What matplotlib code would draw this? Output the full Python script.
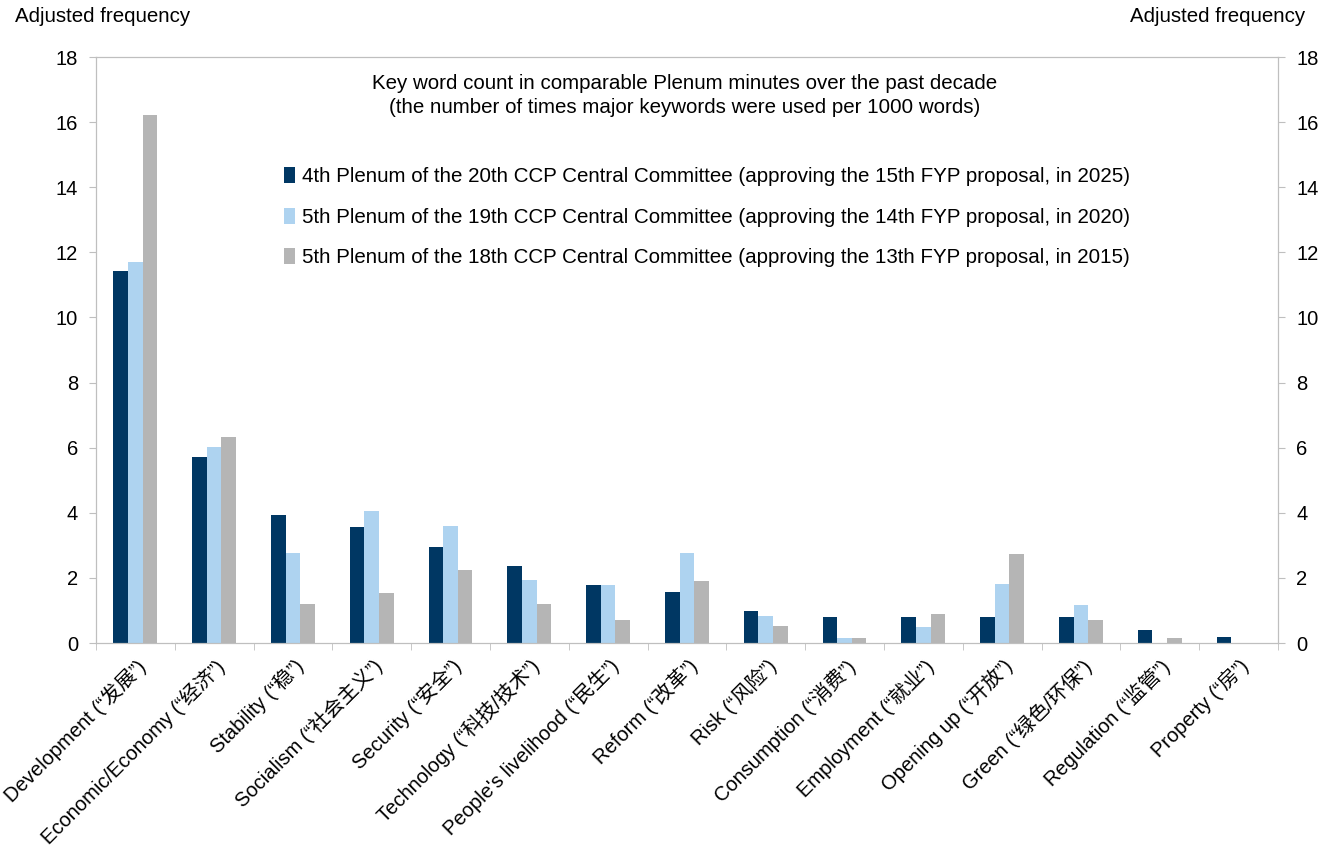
import numpy as np
import matplotlib.pyplot as plt

plt.rcParams['font.family'] = ['Liberation Sans', 'Noto Sans CJK SC', 'DejaVu Sans']

categories = ['Development (“发展”)', 'Economic/Economy (“经济”)', 'Stability (“稳”)',
              'Socialism (“社会主义”)', 'Security (“安全”)', 'Technology (“科技/技术”)',
              'People\'s livelihood (“民生”)', 'Reform (“改革”)', 'Risk (“风险”)',
              'Consumption (“消费”)', 'Employment (“就业”)', 'Opening up (“开放”)',
              'Green (“绿色/环保”)', 'Regulation (“监管”)', 'Property (“房”)']

plenum_2025 = [11.43, 5.72, 3.93, 3.56, 2.95, 2.36, 1.78, 1.58, 0.99, 0.8, 0.8, 0.8, 0.8, 0.41, 0.2]
plenum_2020 = [11.7, 6.02, 2.76, 4.05, 3.6, 1.95, 1.78, 2.78, 0.83, 0.16, 0.5, 1.8, 1.16, 0.0, 0.0]
plenum_2015 = [16.22, 6.32, 1.2, 1.55, 2.24, 1.2, 0.7, 1.9, 0.53, 0.16, 0.88, 2.73, 0.7, 0.16, 0.0]

series_labels = ['4th Plenum of the 20th CCP Central Committee (approving the 15th FYP proposal, in 2025)',
                 '5th Plenum of the 19th CCP Central Committee (approving the 14th FYP proposal, in 2020)',
                 '5th Plenum of the 18th CCP Central Committee (approving the 13th FYP proposal, in 2015)']
colors = ['#003763', '#AED3F0', '#B5B5B5']

fig = plt.figure(figsize=(13.29, 8.6), dpi=100)
ax = fig.add_axes([0.0722, 0.2523, 0.8894, 0.6814])

x = np.arange(len(categories))
w = 0.185
for i, (vals, lab, c) in enumerate(zip([plenum_2025, plenum_2020, plenum_2015], series_labels, colors)):
    ax.bar(x + (i - 1) * w, vals, width=w, color=c, label=lab, zorder=2)

ax.set_xlim(-0.5, len(categories) - 0.5)
ax.set_ylim(0, 18)
ax.set_yticks(range(0, 19, 2))
ax.set_xticks(x)
ax.set_xticklabels(categories, rotation=45, ha='right', va='top', rotation_mode='anchor', fontsize=14.5)
ax.tick_params(axis='x', length=0, pad=9)
ax.set_xticks(np.arange(-0.5, len(categories), 1), minor=True)
ax.tick_params(axis='x', which='minor', length=5, color='#BFBFBF')
ax.tick_params(axis='y', labelsize=14.5, length=5, color='#BFBFBF', pad=8)

for s in ax.spines.values():
    s.set_color('#BFBFBF')

ax2 = ax.twinx()
ax2.set_ylim(0, 18)
ax2.set_yticks(range(0, 19, 2))
ax2.tick_params(axis='y', labelsize=14.5, length=5, color='#BFBFBF', pad=8)
for s in ax2.spines.values():
    s.set_color('#BFBFBF')

ax.text(0.498, 0.971, 'Key word count in comparable Plenum minutes over the past decade\n'
        '(the number of times major keywords were used per 1000 words)',
        transform=ax.transAxes, ha='center', va='top', fontsize=14.8, linespacing=1.3)

ax.legend(loc='upper left', bbox_to_anchor=(0.152, 0.826), frameon=False, fontsize=14.8,
          handlelength=0.55, handleheight=0.8, handletextpad=0.35, labelspacing=1.05,
          borderaxespad=0)

fig.text(15 / 1329, 1 - 17 / 860, 'Adjusted frequency', ha='left', va='center', fontsize=14.8)
fig.text(1305 / 1329, 1 - 17 / 860, 'Adjusted frequency', ha='right', va='center', fontsize=14.8)

fig.savefig('out.png', dpi=100)
